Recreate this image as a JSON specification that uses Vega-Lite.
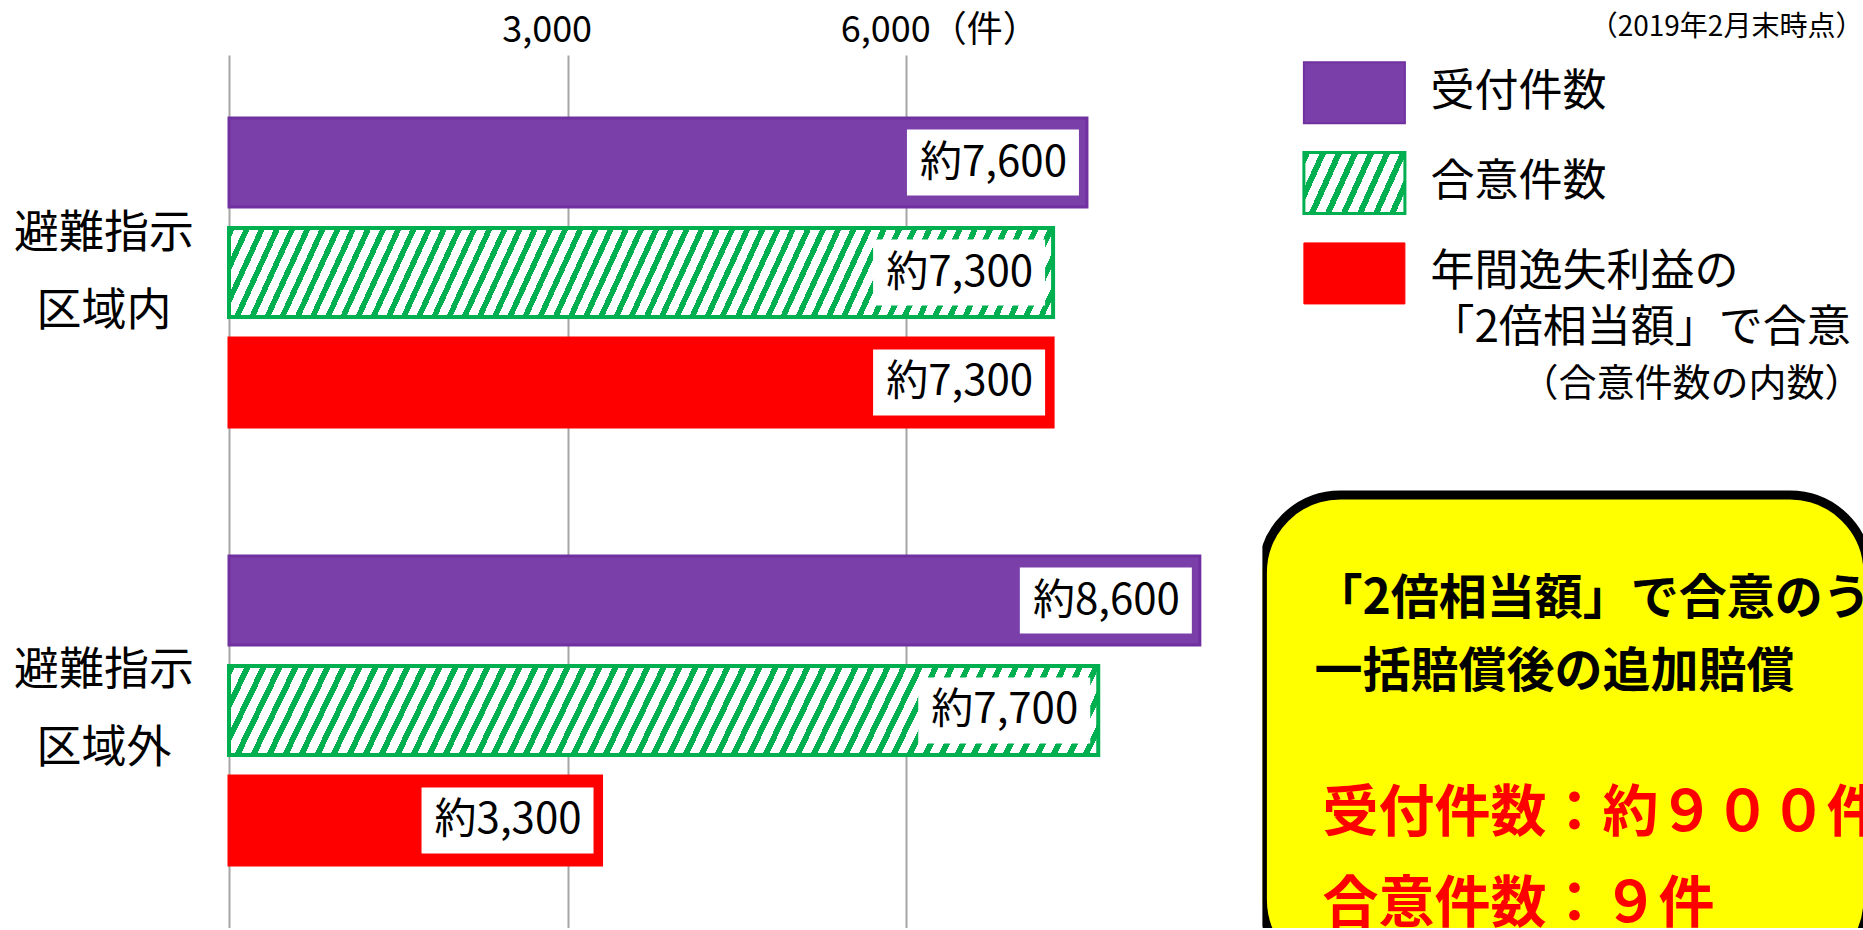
{
  "$schema": "https://vega.github.io/schema/vega-lite/v6.json",
  "background": "white",
  "padding": {"left": 13, "top": 12, "right": 0, "bottom": 0},
  "bounds": "flush",
  "spacing": 17.4,
  "config": {"view": {"stroke": null}, "font": "Noto Sans CJK JP"},
  "hconcat": [
    {
      "width": 1016,
      "height": 873,
      "data": {"values": [
        {"area": "避難指示区域内", "series": "受付件数", "count": 7600, "label": "約7,600"},
        {"area": "避難指示区域内", "series": "合意件数", "count": 7300, "label": "約7,300"},
        {"area": "避難指示区域内", "series": "2倍相当額で合意", "count": 7300, "label": "約7,300"},
        {"area": "避難指示区域外", "series": "受付件数", "count": 8600, "label": "約8,600"},
        {"area": "避難指示区域外", "series": "合意件数", "count": 7700, "label": "約7,700"},
        {"area": "避難指示区域外", "series": "2倍相当額で合意", "count": 3300, "label": "約3,300"}
      ]},
      "encoding": {
        "y": {"field": "area", "type": "nominal",
          "scale": {"domain": ["避難指示区域内", "避難指示区域外"], "paddingInner": 0.2466, "paddingOuter": 0.1199},
          "axis": {"title": null, "domain": false, "ticks": false, "tickSize": 0, "labelAlign": "center", "labelBaseline": "middle", "labelPadding": 125.6, "labelOffset": -39, "labelFontSize": 45, "labelLineHeight": 78, "labelLimit": 0, "labelColor": "#000", "labelExpr": "[substring(datum.label,0,4), substring(datum.label,4)]"}},
        "yOffset": {"field": "series", "type": "nominal",
          "scale": {"domain": ["受付件数", "合意件数", "2倍相当額で合意"], "paddingInner": 0.1909, "paddingOuter": 0.0955}},
        "x": {"field": "count", "type": "quantitative",
          "scale": {"domain": [0, 9000], "nice": false},
          "axis": {"orient": "top", "title": null, "domain": false, "ticks": false, "tickSize": 0, "values": [0, 3000, 6000], "grid": true, "gridColor": "#A6A6A6", "gridWidth": 2, "labelAlign": "left", "labelOffset": -66, "labelBaseline": "middle", "labelPadding": 25, "labelFontSize": 36, "labelLimit": 0, "labelColor": "#000", "labelOverlap": false, "labelBound": false, "labelFlush": false, "labelExpr": "datum.value === 0 ? '' : datum.value === 6000 ? '6,000（件）' : '3,000'"}}
      },
      "layer": [
        {"transform": [{"filter": "datum.series === '受付件数'"}],
         "mark": {"type": "bar", "fill": "#7A3FA8", "stroke": "#7030A0", "strokeWidth": 3}},
        {"transform": [{"filter": "datum.series === '合意件数'"}],
         "mark": {"type": "bar", "stroke": "#00B050", "strokeWidth": 4,
           "fill": {"gradient": "linear", "x1": 0, "y1": 0, "x2": 1.0469, "y2": 0.0518, "stops": [
            {"offset":0,"color":"#00B050"},{"offset":0.00702,"color":"#00B050"},{"offset":0.00702,"color":"#fff"},{"offset":0.01754,"color":"#fff"},
            {"offset":0.01754,"color":"#00B050"},{"offset":0.02456,"color":"#00B050"},{"offset":0.02456,"color":"#fff"},{"offset":0.03509,"color":"#fff"},
            {"offset":0.03509,"color":"#00B050"},{"offset":0.04211,"color":"#00B050"},{"offset":0.04211,"color":"#fff"},{"offset":0.05263,"color":"#fff"},
            {"offset":0.05263,"color":"#00B050"},{"offset":0.05965,"color":"#00B050"},{"offset":0.05965,"color":"#fff"},{"offset":0.07018,"color":"#fff"},
            {"offset":0.07018,"color":"#00B050"},{"offset":0.07719,"color":"#00B050"},{"offset":0.07719,"color":"#fff"},{"offset":0.08772,"color":"#fff"},
            {"offset":0.08772,"color":"#00B050"},{"offset":0.09474,"color":"#00B050"},{"offset":0.09474,"color":"#fff"},{"offset":0.10526,"color":"#fff"},
            {"offset":0.10526,"color":"#00B050"},{"offset":0.11228,"color":"#00B050"},{"offset":0.11228,"color":"#fff"},{"offset":0.12281,"color":"#fff"},
            {"offset":0.12281,"color":"#00B050"},{"offset":0.12982,"color":"#00B050"},{"offset":0.12982,"color":"#fff"},{"offset":0.14035,"color":"#fff"},
            {"offset":0.14035,"color":"#00B050"},{"offset":0.14737,"color":"#00B050"},{"offset":0.14737,"color":"#fff"},{"offset":0.15789,"color":"#fff"},
            {"offset":0.15789,"color":"#00B050"},{"offset":0.16491,"color":"#00B050"},{"offset":0.16491,"color":"#fff"},{"offset":0.17544,"color":"#fff"},
            {"offset":0.17544,"color":"#00B050"},{"offset":0.18246,"color":"#00B050"},{"offset":0.18246,"color":"#fff"},{"offset":0.19298,"color":"#fff"},
            {"offset":0.19298,"color":"#00B050"},{"offset":0.2,"color":"#00B050"},{"offset":0.2,"color":"#fff"},{"offset":0.21053,"color":"#fff"},
            {"offset":0.21053,"color":"#00B050"},{"offset":0.21754,"color":"#00B050"},{"offset":0.21754,"color":"#fff"},{"offset":0.22807,"color":"#fff"},
            {"offset":0.22807,"color":"#00B050"},{"offset":0.23509,"color":"#00B050"},{"offset":0.23509,"color":"#fff"},{"offset":0.24561,"color":"#fff"},
            {"offset":0.24561,"color":"#00B050"},{"offset":0.25263,"color":"#00B050"},{"offset":0.25263,"color":"#fff"},{"offset":0.26316,"color":"#fff"},
            {"offset":0.26316,"color":"#00B050"},{"offset":0.27018,"color":"#00B050"},{"offset":0.27018,"color":"#fff"},{"offset":0.2807,"color":"#fff"},
            {"offset":0.2807,"color":"#00B050"},{"offset":0.28772,"color":"#00B050"},{"offset":0.28772,"color":"#fff"},{"offset":0.29825,"color":"#fff"},
            {"offset":0.29825,"color":"#00B050"},{"offset":0.30526,"color":"#00B050"},{"offset":0.30526,"color":"#fff"},{"offset":0.31579,"color":"#fff"},
            {"offset":0.31579,"color":"#00B050"},{"offset":0.32281,"color":"#00B050"},{"offset":0.32281,"color":"#fff"},{"offset":0.33333,"color":"#fff"},
            {"offset":0.33333,"color":"#00B050"},{"offset":0.34035,"color":"#00B050"},{"offset":0.34035,"color":"#fff"},{"offset":0.35088,"color":"#fff"},
            {"offset":0.35088,"color":"#00B050"},{"offset":0.35789,"color":"#00B050"},{"offset":0.35789,"color":"#fff"},{"offset":0.36842,"color":"#fff"},
            {"offset":0.36842,"color":"#00B050"},{"offset":0.37544,"color":"#00B050"},{"offset":0.37544,"color":"#fff"},{"offset":0.38596,"color":"#fff"},
            {"offset":0.38596,"color":"#00B050"},{"offset":0.39298,"color":"#00B050"},{"offset":0.39298,"color":"#fff"},{"offset":0.40351,"color":"#fff"},
            {"offset":0.40351,"color":"#00B050"},{"offset":0.41053,"color":"#00B050"},{"offset":0.41053,"color":"#fff"},{"offset":0.42105,"color":"#fff"},
            {"offset":0.42105,"color":"#00B050"},{"offset":0.42807,"color":"#00B050"},{"offset":0.42807,"color":"#fff"},{"offset":0.4386,"color":"#fff"},
            {"offset":0.4386,"color":"#00B050"},{"offset":0.44561,"color":"#00B050"},{"offset":0.44561,"color":"#fff"},{"offset":0.45614,"color":"#fff"},
            {"offset":0.45614,"color":"#00B050"},{"offset":0.46316,"color":"#00B050"},{"offset":0.46316,"color":"#fff"},{"offset":0.47368,"color":"#fff"},
            {"offset":0.47368,"color":"#00B050"},{"offset":0.4807,"color":"#00B050"},{"offset":0.4807,"color":"#fff"},{"offset":0.49123,"color":"#fff"},
            {"offset":0.49123,"color":"#00B050"},{"offset":0.49825,"color":"#00B050"},{"offset":0.49825,"color":"#fff"},{"offset":0.50877,"color":"#fff"},
            {"offset":0.50877,"color":"#00B050"},{"offset":0.51579,"color":"#00B050"},{"offset":0.51579,"color":"#fff"},{"offset":0.52632,"color":"#fff"},
            {"offset":0.52632,"color":"#00B050"},{"offset":0.53333,"color":"#00B050"},{"offset":0.53333,"color":"#fff"},{"offset":0.54386,"color":"#fff"},
            {"offset":0.54386,"color":"#00B050"},{"offset":0.55088,"color":"#00B050"},{"offset":0.55088,"color":"#fff"},{"offset":0.5614,"color":"#fff"},
            {"offset":0.5614,"color":"#00B050"},{"offset":0.56842,"color":"#00B050"},{"offset":0.56842,"color":"#fff"},{"offset":0.57895,"color":"#fff"},
            {"offset":0.57895,"color":"#00B050"},{"offset":0.58596,"color":"#00B050"},{"offset":0.58596,"color":"#fff"},{"offset":0.59649,"color":"#fff"},
            {"offset":0.59649,"color":"#00B050"},{"offset":0.60351,"color":"#00B050"},{"offset":0.60351,"color":"#fff"},{"offset":0.61404,"color":"#fff"},
            {"offset":0.61404,"color":"#00B050"},{"offset":0.62105,"color":"#00B050"},{"offset":0.62105,"color":"#fff"},{"offset":0.63158,"color":"#fff"},
            {"offset":0.63158,"color":"#00B050"},{"offset":0.6386,"color":"#00B050"},{"offset":0.6386,"color":"#fff"},{"offset":0.64912,"color":"#fff"},
            {"offset":0.64912,"color":"#00B050"},{"offset":0.65614,"color":"#00B050"},{"offset":0.65614,"color":"#fff"},{"offset":0.66667,"color":"#fff"},
            {"offset":0.66667,"color":"#00B050"},{"offset":0.67368,"color":"#00B050"},{"offset":0.67368,"color":"#fff"},{"offset":0.68421,"color":"#fff"},
            {"offset":0.68421,"color":"#00B050"},{"offset":0.69123,"color":"#00B050"},{"offset":0.69123,"color":"#fff"},{"offset":0.70175,"color":"#fff"},
            {"offset":0.70175,"color":"#00B050"},{"offset":0.70877,"color":"#00B050"},{"offset":0.70877,"color":"#fff"},{"offset":0.7193,"color":"#fff"},
            {"offset":0.7193,"color":"#00B050"},{"offset":0.72632,"color":"#00B050"},{"offset":0.72632,"color":"#fff"},{"offset":0.73684,"color":"#fff"},
            {"offset":0.73684,"color":"#00B050"},{"offset":0.74386,"color":"#00B050"},{"offset":0.74386,"color":"#fff"},{"offset":0.75439,"color":"#fff"},
            {"offset":0.75439,"color":"#00B050"},{"offset":0.7614,"color":"#00B050"},{"offset":0.7614,"color":"#fff"},{"offset":0.77193,"color":"#fff"},
            {"offset":0.77193,"color":"#00B050"},{"offset":0.77895,"color":"#00B050"},{"offset":0.77895,"color":"#fff"},{"offset":0.78947,"color":"#fff"},
            {"offset":0.78947,"color":"#00B050"},{"offset":0.79649,"color":"#00B050"},{"offset":0.79649,"color":"#fff"},{"offset":0.80702,"color":"#fff"},
            {"offset":0.80702,"color":"#00B050"},{"offset":0.81404,"color":"#00B050"},{"offset":0.81404,"color":"#fff"},{"offset":0.82456,"color":"#fff"},
            {"offset":0.82456,"color":"#00B050"},{"offset":0.83158,"color":"#00B050"},{"offset":0.83158,"color":"#fff"},{"offset":0.84211,"color":"#fff"},
            {"offset":0.84211,"color":"#00B050"},{"offset":0.84912,"color":"#00B050"},{"offset":0.84912,"color":"#fff"},{"offset":0.85965,"color":"#fff"},
            {"offset":0.85965,"color":"#00B050"},{"offset":0.86667,"color":"#00B050"},{"offset":0.86667,"color":"#fff"},{"offset":0.87719,"color":"#fff"},
            {"offset":0.87719,"color":"#00B050"},{"offset":0.88421,"color":"#00B050"},{"offset":0.88421,"color":"#fff"},{"offset":0.89474,"color":"#fff"},
            {"offset":0.89474,"color":"#00B050"},{"offset":0.90175,"color":"#00B050"},{"offset":0.90175,"color":"#fff"},{"offset":0.91228,"color":"#fff"},
            {"offset":0.91228,"color":"#00B050"},{"offset":0.9193,"color":"#00B050"},{"offset":0.9193,"color":"#fff"},{"offset":0.92982,"color":"#fff"},
            {"offset":0.92982,"color":"#00B050"},{"offset":0.93684,"color":"#00B050"},{"offset":0.93684,"color":"#fff"},{"offset":0.94737,"color":"#fff"},
            {"offset":0.94737,"color":"#00B050"},{"offset":0.95439,"color":"#00B050"},{"offset":0.95439,"color":"#fff"},{"offset":0.96491,"color":"#fff"},
            {"offset":0.96491,"color":"#00B050"},{"offset":0.97193,"color":"#00B050"},{"offset":0.97193,"color":"#fff"},{"offset":0.98246,"color":"#fff"},
            {"offset":0.98246,"color":"#00B050"},{"offset":0.98947,"color":"#00B050"},{"offset":0.98947,"color":"#fff"},{"offset":1,"color":"#fff"}
           ]}}},
        {"transform": [{"filter": "datum.series === '2倍相当額で合意'"}],
         "mark": {"type": "bar", "fill": "#FF0000", "stroke": "#FF0000", "strokeWidth": 3}},
        {"mark": {"type": "point", "shape": "M-2,-0.3837H0V0.3837H-2Z", "size": 29584, "filled": true, "fill": "#ffffff", "opacity": 1, "strokeWidth": 0, "xOffset": -8}},
        {"mark": {"type": "text", "align": "right", "baseline": "middle", "dx": -20, "fontSize": 42, "color": "#000"},
         "encoding": {"text": {"field": "label"}}}
      ]
    },
    {
      "width": 601,
      "height": 873,
      "data": {"values": [
        {"line": 0, "kind": "stamp", "text": "（2019年2月末時点）"},
        {"line": 0, "kind": "swatch", "key": "受付件数"},
        {"line": 3, "kind": "swatch", "key": "合意件数"},
        {"line": 6, "kind": "swatch", "key": "2倍相当額で合意"},
        {"line": 0, "kind": "legend", "text": "受付件数"},
        {"line": 3, "kind": "legend", "text": "合意件数"},
        {"line": 6, "kind": "legend", "text": ["年間逸失利益の", "「2倍相当額」で合意"]},
        {"line": 10, "kind": "note", "text": "（合意件数の内数）"},
        {"line": 13, "kind": "box"},
        {"line": 17, "kind": "boxhead", "text": ["「2倍相当額」で合意のうち、", "一括賠償後の追加賠償"]},
        {"line": 24, "kind": "boxcount", "text": "受付件数：約９００件"},
        {"line": 27, "kind": "boxcount", "text": "合意件数：９件"}
      ]},
      "encoding": {
        "y": {"field": "line", "type": "ordinal", "axis": null,
          "scale": {"type": "point", "domain": [0,1,2,3,4,5,6,7,8,9,10,11,12,13,14,15,16,17,18,19,20,21,22,23,24,25,26,27], "padding": 1.1724, "align": 0.5448}}
      },
      "layer": [
        {"transform": [{"filter": "datum.kind === 'box'"}],
         "mark": {"type": "rect", "fill": "#FFFF00", "stroke": "#000", "strokeWidth": 9, "cornerRadius": 78, "xOffset": 4.5, "x2Offset": 120, "yOffset": 15.75, "y2Offset": 77, "clip": true},
         "encoding": {"y2": {"datum": 27}}},
        {"transform": [{"filter": "datum.kind === 'swatch' && datum.key === '受付件数'"}],
         "mark": {"type": "point", "shape": "M-1,-0.604H1V0.604H-1Z", "size": 10201, "filled": true, "fill": "#7A3FA8", "stroke": "#7030A0", "strokeWidth": 2, "opacity": 1, "xOffset": -208.5, "yOffset": 5}},
        {"transform": [{"filter": "datum.kind === 'swatch' && datum.key === '合意件数'"}],
         "mark": {"type": "point", "shape": "M-1,-0.604H1V0.604H-1Z", "size": 10201, "filled": true, "stroke": "#00B050", "strokeWidth": 3, "opacity": 1, "xOffset": -208.5, "yOffset": 5,
           "fill": {"gradient": "linear", "x1": 0, "y1": 0, "x2": 1.184, "y2": 0.322, "stops": [
             {"offset":0,"color":"#00B050"},{"offset":0.05,"color":"#00B050"},{"offset":0.05,"color":"#fff"},{"offset":0.125,"color":"#fff"},
             {"offset":0.125,"color":"#00B050"},{"offset":0.175,"color":"#00B050"},{"offset":0.175,"color":"#fff"},{"offset":0.25,"color":"#fff"},
             {"offset":0.25,"color":"#00B050"},{"offset":0.3,"color":"#00B050"},{"offset":0.3,"color":"#fff"},{"offset":0.375,"color":"#fff"},
             {"offset":0.375,"color":"#00B050"},{"offset":0.425,"color":"#00B050"},{"offset":0.425,"color":"#fff"},{"offset":0.5,"color":"#fff"},
             {"offset":0.5,"color":"#00B050"},{"offset":0.55,"color":"#00B050"},{"offset":0.55,"color":"#fff"},{"offset":0.625,"color":"#fff"},
             {"offset":0.625,"color":"#00B050"},{"offset":0.675,"color":"#00B050"},{"offset":0.675,"color":"#fff"},{"offset":0.75,"color":"#fff"},
             {"offset":0.75,"color":"#00B050"},{"offset":0.8,"color":"#00B050"},{"offset":0.8,"color":"#fff"},{"offset":0.875,"color":"#fff"},
             {"offset":0.875,"color":"#00B050"},{"offset":0.925,"color":"#00B050"},{"offset":0.925,"color":"#fff"},{"offset":1,"color":"#fff"}
           ]}}},
        {"transform": [{"filter": "datum.kind === 'swatch' && datum.key === '2倍相当額で合意'"}],
         "mark": {"type": "point", "shape": "M-1,-0.604H1V0.604H-1Z", "size": 10201, "filled": true, "fill": "#FF0000", "stroke": "#FF0000", "strokeWidth": 1, "opacity": 1, "xOffset": -208.5, "yOffset": 5}},
        {"transform": [{"filter": "datum.kind === 'stamp'"}],
         "mark": {"type": "text", "align": "right", "baseline": "middle", "dx": 300.5, "dy": -60, "fontSize": 28, "color": "#000"},
         "encoding": {"text": {"field": "text"}}},
        {"transform": [{"filter": "datum.kind === 'legend'"}],
         "mark": {"type": "text", "align": "left", "baseline": "middle", "dx": -132.5, "dy": 5, "fontSize": 44, "lineHeight": 56, "color": "#000"},
         "encoding": {"text": {"field": "text"}}},
        {"transform": [{"filter": "datum.kind === 'note'"}],
         "mark": {"type": "text", "align": "left", "baseline": "middle", "dx": -42.5, "dy": -4, "fontSize": 38, "color": "#000"},
         "encoding": {"text": {"field": "text"}}},
        {"transform": [{"filter": "datum.kind === 'boxhead'"}],
         "mark": {"type": "text", "align": "left", "baseline": "middle", "dx": -248.5, "fontSize": 48, "fontWeight": "bold", "lineHeight": 73, "color": "#000", "clip": true},
         "encoding": {"text": {"field": "text"}}},
        {"transform": [{"filter": "datum.kind === 'boxcount'"}],
         "mark": {"type": "text", "align": "left", "baseline": "middle", "dx": -240.5, "dy": 4, "fontSize": 56, "fontWeight": "bold", "color": "#FF0000", "clip": true},
         "encoding": {"text": {"field": "text"}}}
      ]
    }
  ]
}
